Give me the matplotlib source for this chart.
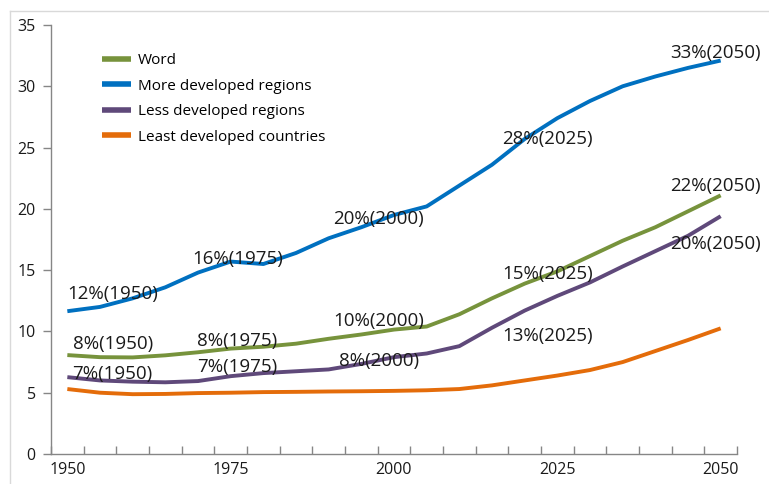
import numpy as np
import matplotlib.pyplot as plt
from matplotlib.lines import Line2D

plt.rcParams['font.family'] = ['Open Sans', 'DejaVu Sans']

years = [1950, 1955, 1960, 1965, 1970, 1975, 1980, 1985, 1990, 1995, 2000,
         2005, 2010, 2015, 2020, 2025, 2030, 2035, 2040, 2045, 2050]

world = [8.07, 7.9, 7.88, 8.05, 8.3, 8.6, 8.75, 9.0, 9.4, 9.75, 10.15,
         10.4, 11.4, 12.7, 13.9, 14.9, 16.15, 17.4, 18.5, 19.8, 21.1]
more_dev = [11.65, 12.0, 12.7, 13.6, 14.8, 15.7, 15.5, 16.4, 17.6, 18.5, 19.5,
            20.2, 21.9, 23.6, 25.7, 27.4, 28.8, 30.0, 30.8, 31.5, 32.1]
less_dev = [6.27, 6.0, 5.9, 5.85, 5.95, 6.35, 6.6, 6.75, 6.9, 7.35, 7.9,
            8.2, 8.8, 10.3, 11.7, 12.9, 14.0, 15.3, 16.55, 17.8, 19.4]
least_dev = [5.3, 5.0, 4.88, 4.9, 4.97, 5.0, 5.05, 5.07, 5.1, 5.12, 5.15,
             5.2, 5.3, 5.6, 6.0, 6.4, 6.85, 7.5, 8.4, 9.3, 10.25]

series_names = ['Word', 'More developed regions', 'Less developed regions',
                'Least developed countries']
colors = ['#77933C', '#0070C0', '#5F497A', '#E46C0A']

# annotation text, left edge (year), vertical centre (value)
notes = [
    ('12%(1950)', 1950.0, 13.05), ('16%(1975)', 1969.2, 15.9),
    ('20%(2000)', 1990.7, 19.2), ('28%(2025)', 2016.6, 25.7),
    ('33%(2050)', 2042.3, 32.7),
    ('8%(1950)', 1950.8, 8.97), ('8%(1975)', 1969.8, 9.2),
    ('10%(2000)', 1990.7, 10.85), ('15%(2025)', 2016.6, 14.7),
    ('22%(2050)', 2042.3, 21.9),
    ('7%(1950)', 1950.8, 6.5), ('7%(1975)', 1969.8, 7.1),
    ('8%(2000)', 1991.6, 7.6), ('13%(2025)', 2016.6, 9.6),
    ('20%(2050)', 2042.3, 17.1),
]

fig = plt.figure(figsize=(7.69, 4.84), dpi=100)
ax = fig.add_axes([51 / 769, 1 - 454 / 484, 686 / 769, 429 / 484])

for vals, name, c in zip([world, more_dev, less_dev, least_dev], series_names, colors):
    ax.plot(years, vals, color=c, lw=2.8, label=name, solid_capstyle='butt')

for txt, x, y in notes:
    ax.text(x, y, txt, fontsize=13.5, color='#1a1a1a', ha='left', va='center')

axis_gray = '#868686'
ax.set_xlim(1947.5, 2052.5)
ax.set_ylim(0, 35)
ax.set_yticks(np.arange(0, 36, 5))
ax.set_xticks(np.arange(1950, 2051, 25))
ax.set_xticks(np.arange(1947.5, 2053, 5), minor=True)
ax.tick_params(axis='x', which='major', length=0, pad=6, labelsize=11.5, colors='#1a1a1a')
ax.tick_params(axis='x', which='minor', direction='in', length=6, color=axis_gray, width=1)
ax.tick_params(axis='y', length=6, width=1, color=axis_gray, pad=5, labelsize=11.5,
               labelcolor='#1a1a1a')
for s in ['top', 'right']:
    ax.spines[s].set_visible(False)
for s in ['left', 'bottom']:
    ax.spines[s].set_color(axis_gray)
    ax.spines[s].set_linewidth(1)

leg = ax.legend(loc='upper left', bbox_to_anchor=(0.0653, 0.948), frameon=False,
                fontsize=11, handlelength=1.9, handletextpad=0.45, labelspacing=0.68,
                borderaxespad=0)
for h in leg.get_lines():
    h.set_linewidth(4)

# light frame around the chart area
fig.add_artist(Line2D([10 / 769, 10 / 769], [0, 1 - 11 / 484], color='#d9d9d9', lw=1))
fig.add_artist(Line2D([10 / 769, 1], [1 - 11 / 484, 1 - 11 / 484], color='#d9d9d9', lw=1))

fig.savefig('out.png', dpi=100)
